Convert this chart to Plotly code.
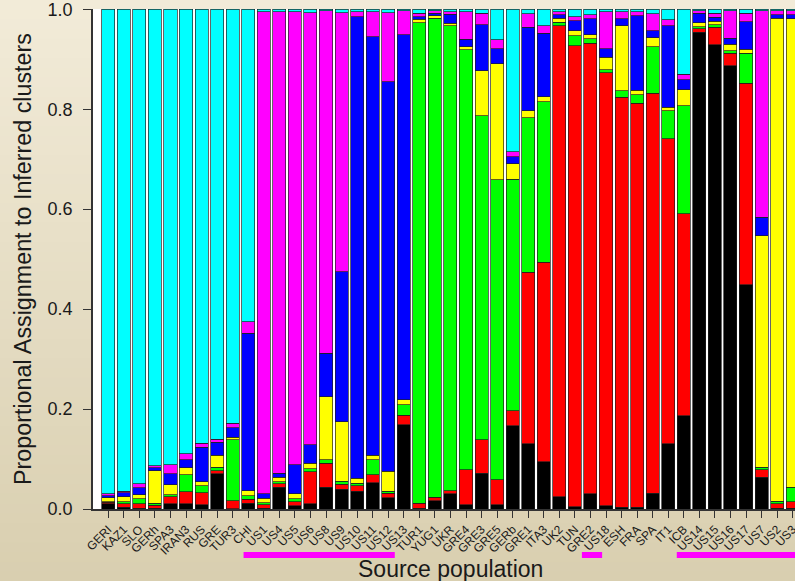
import plotly.graph_objects as go

populations = ["GERI", "KAZ1", "SLO", "GERh", "SPA3", "IRAN3", "RUS", "GRE", "TUR3", "CHI",
               "US1", "US4", "US5", "US6", "US8", "US9", "US10", "US11", "US12", "US13",
               "TUR1", "YUG1", "UKR", "GRE4", "GRE3", "GRE5", "GERb", "GRE1", "ITA3", "UK2",
               "TUN", "GRE2", "US18", "ESH", "FRA", "SPA", "IT1", "ICB", "US14", "US15",
               "US16", "US17", "US7", "US2", "US3"]

black = [.011, .004, .002, .002, .011, .011, .009, .071, .001, .012,
         .002, .044, .007, .011, .044, .040, .036, .053, .023, .169,
         .002, .017, .031, .009, .072, .009, .167, .131, .095, .025,
         .005, .031, .007, .004, .004, .032, .131, .187, .954, .929,
         .887, .449, .064, .002, .002]
red = [.003, .007, .009, .006, .014, .024, .024, .006, .016, .008,
       .007, .007, .008, .064, .048, .010, .011, .016, .009, .019,
       .010, .007, .006, .070, .067, .050, .030, .343, .399, .942,
       .922, .901, .866, .820, .808, .800, .610, .404, .007, .035,
       .025, .403, .015, .009, .013]
green = [.001, .004, .010, .004, .004, .034, .014, .007, .122, .007,
         .004, .004, .006, .006, .007, .006, .005, .030, .004, .021,
         .961, .958, .930, .840, .648, .600, .463, .309, .321, .007,
         .020, .009, .006, .013, .017, .093, .056, .216, .004, .005,
         .005, .060, .005, .005, .029]
yellow = [.008, .010, .008, .065, .020, .014, .008, .024, .005, .010,
          .009, .009, .010, .011, .126, .119, .010, .009, .040, .010,
          .007, .005, .005, .006, .090, .232, .031, .014, .010, .008,
          .010, .008, .025, .130, .009, .018, .007, .032, .008, .007,
          .013, .008, .463, .966, .937]
blue = [.004, .008, .014, .006, .022, .016, .069, .026, .019, .315,
        .009, .008, .058, .037, .087, .300, .923, .837, .779, .730,
        .005, .005, .018, .015, .092, .030, .014, .167, .127, .007,
        .020, .032, .017, .014, .149, .014, .163, .020, .019, .008,
        .012, .055, .037, .007, .008]
magenta = [.004, .003, .008, .004, .018, .012, .008, .006, .009, .023,
           .964, .923, .906, .864, .685, .518, .010, .050, .138, .048,
           .007, .005, .005, .055, .023, .018, .010, .027, .015, .006,
           .008, .008, .074, .014, .008, .034, .012, .011, .005, .008,
           .055, .017, .413, .008, .008]
cyan = [.969, .964, .949, .913, .911, .889, .868, .860, .828, .625,
        .005, .005, .005, .007, .003, .007, .005, .005, .007, .003,
        .008, .003, .005, .005, .008, .061, .285, .009, .033, .005,
        .015, .011, .005, .005, .005, .009, .021, .130, .003, .008,
        .003, .008, .003, .003, .003]

clusters = [("black", black, "#000000"), ("red", red, "#ff0000"), ("green", green, "#00ff00"),
            ("yellow", yellow, "#ffff00"), ("blue", blue, "#0000ff"),
            ("magenta", magenta, "#ff00ff"), ("cyan", cyan, "#00ffff")]

# group markers under the axis (in category-position units)
us_groups = [(8.7, 18.42), (30.45, 31.75), (36.55, 45.5)]

y_ticks = [0.0, 0.2, 0.4, 0.6, 0.8, 1.0]

W, H = 795, 581
ML, MR, MT, MB = 93, 0, 9, 72
plot_h = H - MT - MB
plot_w = W - ML - MR

fig = go.Figure()
for name, vals, col in clusters:
    fig.add_trace(go.Bar(
        x=populations, y=vals, name=name,
        marker=dict(color=col, line=dict(color="rgba(30,30,30,0.85)", width=0.8)),
        showlegend=False,
    ))

shapes = []
# gradient background bands
top = (242, 235, 216)
bot = (217, 207, 176)
N = 60
y_bottom = -MB / plot_h
y_top = 1 + MT / plot_h
for k in range(N):
    t = k / (N - 1)
    c = tuple(round(bot[i] + (top[i] - bot[i]) * t) for i in range(3))
    y0 = y_bottom + (y_top - y_bottom) * k / N
    y1 = y_bottom + (y_top - y_bottom) * (k + 1) / N + 0.002
    shapes.append(dict(type="rect", xref="paper", yref="paper", x0=-0.2, x1=1.1,
                       y0=y0, y1=y1, fillcolor="rgb(%d,%d,%d)" % c,
                       line=dict(width=0), layer="below"))
shapes.append(dict(type="rect", xref="paper", yref="paper", x0=0, x1=1, y0=0, y1=1,
                   fillcolor="white", line=dict(width=0), layer="below"))
for g0, g1 in us_groups:
    shapes.append(dict(type="rect", xref="x", yref="paper", x0=g0, x1=g1,
                       y0=-49 / plot_h, y1=-43 / plot_h,
                       fillcolor="#ff00ff", line=dict(width=0), layer="above"))

fig.update_layout(
    width=W, height=H,
    margin=dict(l=ML, r=MR, t=MT, b=MB, autoexpand=False),
    barmode="stack", bargap=0.16,
    paper_bgcolor="#e6ddc4", plot_bgcolor="white",
    font=dict(family="Liberation Sans, Arial, sans-serif", color="#1a1a1a"),
    shapes=shapes,
    xaxis=dict(range=[-0.98, 44.15], showline=True, linecolor="#333", linewidth=1.5,
               ticks="outside", ticklen=7, tickcolor="#333", tickangle=-45,
               tickfont=dict(size=12, color="#1a1a1a"), showgrid=False, zeroline=False,
               automargin=False, ticklabeloverflow="allow"),
    yaxis=dict(range=[0, 1.0005], showline=True, linecolor="#333", linewidth=1.5,
               ticks="outside", ticklen=8, tickcolor="#333",
               tickvals=y_ticks, tickformat=".1f", ticklabelstandoff=7,
               tickfont=dict(size=18, color="#1a1a1a"), showgrid=False, zeroline=False,
               automargin=False, ticklabeloverflow="allow",
               title=dict(text="Proportional Assignment to Inferred clusters",
                          font=dict(size=23.3, color="#1a1a1a"), standoff=9)),
    annotations=[dict(text="Source population", xref="paper", yref="paper",
                      x=(450.8 - ML) / plot_w, y=0, yshift=-60, xanchor="center",
                      yanchor="middle", showarrow=False,
                      font=dict(size=23, color="#1a1a1a"))],
)

fig.write_html("out.html", config={"displayModeBar": False},
               post_script="document.body.style.margin='0';document.body.style.overflow='hidden';")
